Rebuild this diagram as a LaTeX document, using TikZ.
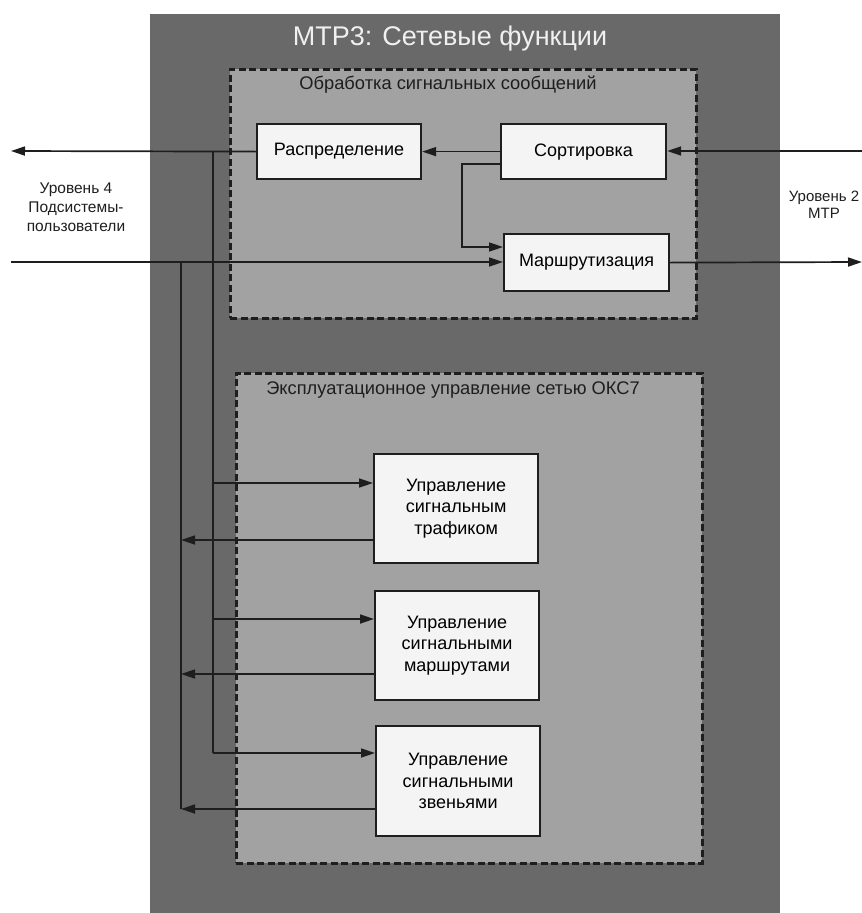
\documentclass[tikz,border=0pt]{standalone}
\usepackage{fontspec}
\setmainfont{Liberation Sans}
\usetikzlibrary{arrows.meta,calc}

\definecolor{panel}{HTML}{696969}
\definecolor{groupfill}{HTML}{A2A2A2}
\definecolor{boxfill}{HTML}{F4F4F4}
\definecolor{ink}{HTML}{1E1E1E}
\definecolor{titleink}{HTML}{F0F0F0}

\begin{document}
\begin{tikzpicture}[x=1pt,y=-1pt,
  func/.style={draw=ink, line width=2.2pt, fill=boxfill, anchor=north west,
    inner sep=0pt, align=center, font=\fontsize{18}{21.7}\selectfont},
  groupbox/.style={draw=ink, line width=2.6pt, dash pattern=on 7pt off 3.5pt,
    fill=groupfill, anchor=north west, inner sep=0pt},
  grouptitle/.style={font=\fontsize{18.3}{21}\selectfont, text=ink, inner sep=0pt},
  levellabel/.style={font=\fontsize{15.5}{19}\selectfont, text=ink, align=center, inner sep=0pt},
  wire/.style={draw=ink, line width=1.7pt},
  arr/.style={wire, -{Triangle[length=14pt,width=9pt]}}
]
\useasboundingbox (0,0) rectangle (862,913);

% MTP level 3 panel
\node[fill=panel, anchor=north west, minimum width=630pt, minimum height=900pt,
  inner sep=0pt] (mtp) at (150,14) {};
\node[font=\fontsize{27}{30}\selectfont, text=titleink, inner sep=0pt]
  (mtptitle) at (450,39) {МТР3: Сетевые функции};

% Message handling group
\node[groupbox, minimum width=466pt, minimum height=249pt] (handling) at (229,68) {};
\node[grouptitle] (handlingtitle) at (448,85) {Обработка сигнальных сообщений};

\node[func, minimum width=164pt, minimum height=55pt] (dist) at (256,123) {Распределение};
\node[func, minimum width=165pt, minimum height=55pt] (sort) at (500,123) {Сортировка};
\node[func, minimum width=165pt, minimum height=57pt] (route) at (503,233) {Маршрутизация};

% Network management group
\node[groupbox, minimum width=466pt, minimum height=490pt] (mgmt) at (235,372) {};
\node[grouptitle] (mgmttitle) at (453,390) {Эксплуатационное управление сетью ОКС7};

\node[func, minimum width=164pt, minimum height=109pt] (traffic) at (373,453)
  {Управление\\сигнальным\\трафиком};
\node[func, minimum width=164pt, minimum height=109pt] (routes) at (374,590)
  {Управление\\сигнальными\\маршрутами};
\node[func, minimum width=164pt, minimum height=110pt] (links) at (375,725)
  {Управление\\сигнальными\\звеньями};

% Neighbouring levels
\node[levellabel] (level4) at (76,207) {Уровень 4\\Подсистемы-\\пользователи};
\node[levellabel, font=\fontsize{15}{16.5}\selectfont] (level2) at (824,205) {Уровень 2\\МТР};

% Connector end points and ports
\coordinate (l2in) at (862,151);
\coordinate (l2out) at (862,262);
\coordinate (l4out) at (11,151);
\coordinate (l4in) at (11,262);
\coordinate (sortbranch) at ($(sort.north west)+(0,41)$);
\coordinate (split) at (462,205);
\coordinate (routebranch) at ($(route.north west)+(0,14)$);
\coordinate (busA) at (213,151);
\coordinate (busB) at (181,262);
\coordinate (trafficin) at ($(traffic.north west)+(0,30)$);
\coordinate (trafficout) at ($(traffic.north west)+(0,87)$);
\coordinate (routesin) at ($(routes.north west)+(0,29)$);
\coordinate (routesout) at ($(routes.north west)+(0,84)$);
\coordinate (linksin) at ($(links.north west)+(0,28)$);
\coordinate (linksout) at ($(links.north west)+(0,84)$);

% Message flow
\draw[arr] (l2in) -- (l2in -| sort.east);
\draw[arr] (sort.west) -- (dist.east);
\draw[arr] (dist.west) -- (l4out);
\draw[arr] (sortbranch) -| (split) |- (routebranch);
\draw[arr] (l4in) -- (l4in -| route.west);
\draw[arr] (route.east) -- (l2out);

% Distribution bus into the management functions
\draw[wire] (busA) -- (busA |- linksin);
\draw[arr] (busA |- trafficin) -- (trafficin);
\draw[arr] (busA |- routesin) -- (routesin);
\draw[arr] (busA |- linksin) -- (linksin);

% Management messages back to routing
\draw[wire] (busB) -- (busB |- linksout);
\draw[arr] (trafficout) -- (trafficout -| busB);
\draw[arr] (routesout) -- (routesout -| busB);
\draw[arr] (linksout) -- (linksout -| busB);
\end{tikzpicture}
\end{document}
